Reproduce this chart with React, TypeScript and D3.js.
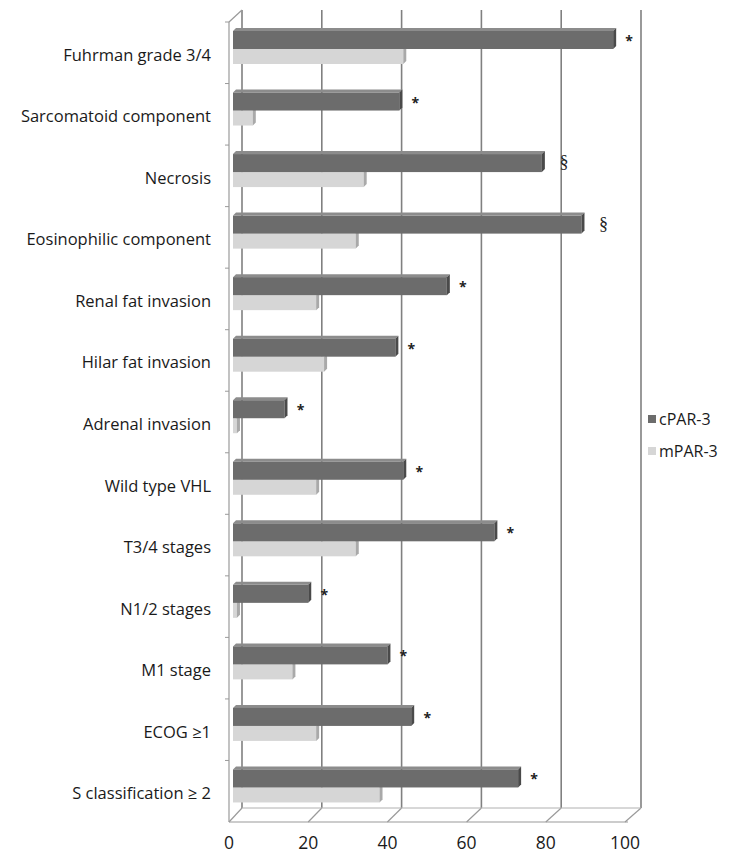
import { scaleLinear, scaleBand } from "d3";

// data
const categories = [
  "Fuhrman grade 3/4",
  "Sarcomatoid component",
  "Necrosis",
  "Eosinophilic component",
  "Renal fat invasion",
  "Hilar fat invasion",
  "Adrenal invasion",
  "Wild type VHL",
  "T3/4 stages",
  "N1/2 stages",
  "M1 stage",
  "ECOG \u22651",
  "S classification \u2265 2",
];
const cPAR3 = [96, 42, 78, 88, 54, 41, 13, 43, 66, 19, 39, 45, 72];
const mPAR3 = [43, 5, 33, 31, 21, 23, 1, 21, 31, 1, 15, 21, 37];
const marks = ["*", "*", "\u00a7", "\u00a7", "*", "*", "*", "*", "*", "*", "*", "*", "*"];
const ticks = [0, 20, 40, 60, 80, 100];
const seriesNames = ["cPAR-3", "mPAR-3"];

const W = 741;
const H = 859;
const font = "'Open Sans', 'DejaVu Sans', sans-serif";

// 3d frame
const floorFront = 822;
const floorBack = 808;
const wallTop = 10;

const xFront = scaleLinear().domain([0, 100]).range([229, 625]);
const xBack = scaleLinear().domain([0, 100]).range([242, 641]);
const xBar = scaleLinear().domain([0, 100]).range([233, 629]);
const yBand = scaleBand<string>().domain(categories).range([22, floorFront]);

const dark = { front: "#6c6c6c", top: "#8c8c8c", end: "#4a4a4a" };
const light = { front: "#d6d6d6", top: "#e4e4e4", end: "#a9a9a9" };

function Bar({ v, y, h, c }: { v: number; y: number; h: number; c: typeof dark }) {
  const x0 = xBar(0);
  const x1 = xBar(v);
  const d = 3;
  return (
    <g>
      <polygon
        points={`${x0},${y + d} ${x0 + d},${y} ${x1 + d},${y} ${x1},${y + d}`}
        fill={c.top}
      />
      <rect x={x0} y={y + d} width={Math.max(0, x1 - x0)} height={h - d} fill={c.front} />
      <polygon
        points={`${x1},${y + d} ${x1 + d},${y} ${x1 + d},${y + h - d} ${x1},${y + h}`}
        fill={c.end}
      />
    </g>
  );
}

export default function App() {
  return (
    <svg
      width={W}
      height={H}
      style={{ position: "absolute", left: 0, top: 0, background: "#fff" }}
      fontFamily={font}
    >
      {/* back wall gridlines and floor slants */}
      {ticks.map((t) => (
        <g key={t}>
          <line x1={xBack(t)} x2={xBack(t)} y1={wallTop} y2={floorBack} stroke="#808080" strokeWidth={1.6} />
          <line x1={xBack(t)} x2={xFront(t)} y1={floorBack} y2={floorFront} stroke="#9a9a9a" strokeWidth={1.2} />
        </g>
      ))}
      {/* left wall */}
      <line x1={xFront(0)} x2={xFront(0)} y1={22} y2={floorFront} stroke="#9a9a9a" strokeWidth={1.2} />
      <line x1={xFront(0)} x2={xBack(0)} y1={22} y2={wallTop} stroke="#9a9a9a" strokeWidth={1.2} />
      {/* floor edges */}
      <line x1={xFront(0)} x2={xFront(100) + 3} y1={floorFront} y2={floorFront} stroke="#9a9a9a" strokeWidth={1.2} />
      <line x1={xBack(0)} x2={xBack(100)} y1={floorBack} y2={floorBack} stroke="#b0b0b0" strokeWidth={1} />
      {/* category ticks on left wall */}
      {categories.map((c) => (
        <line
          key={c}
          x1={xFront(0) - 4}
          x2={xFront(0)}
          y1={yBand(c)!}
          y2={yBand(c)!}
          stroke="#9a9a9a"
        />
      ))}

      {/* bars */}
      {categories.map((c, i) => {
        const y = yBand(c)!;
        const star = marks[i] === "*";
        return (
          <g key={c}>
            <Bar v={mPAR3[i]} y={y + 24} h={18} c={light} />
            <Bar v={cPAR3[i]} y={y + 6} h={21} c={dark} />
            <text
              x={xBar(cPAR3[i]) + (star ? 16 : 22)}
              y={y + (star ? 24 : 23)}
              fontSize={star ? 14 : 18}
              textAnchor="middle"
              fill="#222"
              fontWeight={star ? "bold" : "normal"}
              fontFamily={star ? font : "'Liberation Serif', serif"}
            >
              {marks[i]}
            </text>
            <text x={211} y={y + 33} dy="0.35em" textAnchor="end" fontSize={16.5} fill="#1a1a1a">
              {c}
            </text>
          </g>
        );
      })}

      {/* x tick labels */}
      {ticks.map((t) => (
        <text key={t} x={xFront(t)} y={843} dy="0.35em" textAnchor="middle" fontSize={17.5} fill="#1a1a1a">
          {t}
        </text>
      ))}

      {/* legend */}
      {seriesNames.map((s, i) => (
        <g key={s} transform={`translate(648,${419 + i * 32})`}>
          <rect x={0} y={-4} width={8} height={8} fill={i === 0 ? dark.front : light.front} />
          <text x={11} y={0} dy="0.35em" fontSize={16} fill="#1a1a1a">
            {s}
          </text>
        </g>
      ))}
    </svg>
  );
}
